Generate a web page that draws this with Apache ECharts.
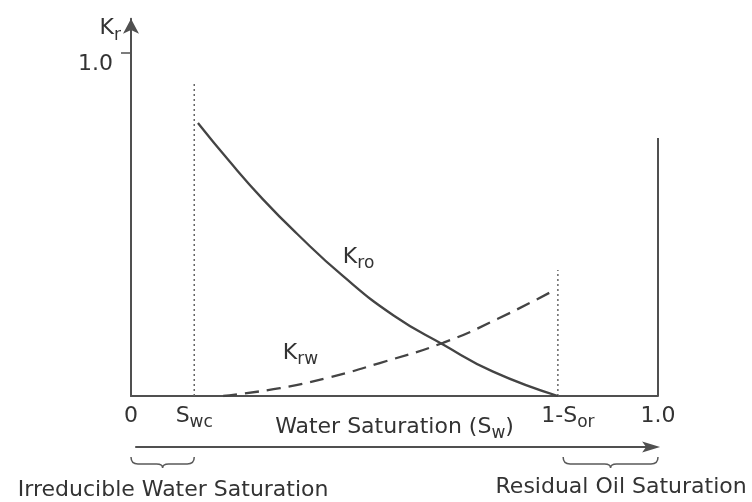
<!DOCTYPE html>
<html>
<head>
<meta charset="utf-8">
<script src="https://cdn.jsdelivr.net/npm/echarts@6/dist/echarts.min.js"></script>
<style>
  html, body { margin: 0; padding: 0; background: #ffffff; }
  #chart { width: 752px; height: 502px; }
</style>
</head>
<body>
<div id="chart"></div>
<script>
// Oil / water relative permeability against water saturation

// Oil relative permeability (solid curve)
const kroSw     = [0.127, 0.188, 0.250, 0.315, 0.402, 0.499, 0.592, 0.687, 0.810];
const kroValues = [0.796, 0.682, 0.574, 0.473, 0.350, 0.234, 0.150, 0.071, 0.000];

// Water relative permeability (dashed curve)
const krwSw     = [0.175, 0.283, 0.378, 0.472, 0.592, 0.696, 0.805];
const krwValues = [0.000, 0.023, 0.055, 0.096, 0.155, 0.225, 0.310];

// End-point saturations and guide heights
const swc = 0.12;          // connate water saturation
const oneMinusSor = 0.81;  // 1 - residual oil saturation
const swcGuideTop = 0.912;
const sorGuideTop = 0.367;
const fullWaterEdgeTop = 0.752;

// Axis ticks
const xTickValues = [0, swc, oneMinusSor, 1.0];
const xTickLabels = ['0', 'Swc', '1-Sor', '1.0'];
const yTickValues = [1.0];
const yTickLabels = ['1.0'];

// Saturation ranges marked by braces under the axis
const irreducibleRange = [0, swc];
const residualOilRange = [0.82, 1.0];
const rangeNames = ['Irreducible Water Saturation', 'Residual Oil Saturation'];

// Where the text annotations sit, in axis units
const labelAnchors = {
  kro: [0.402, 0.401],
  krw: [0.288, 0.121],
  irreducible: [0.08, -0.276],
  residual: [0.93, -0.266],
  arrowY: -0.149,
  arrowStart: 0.008,
  arrowEnd: 1.004,
  braceY: -0.178
};

const FONT = 'DejaVu Sans';
const INK = '#333333';
const LINE = '#444444';
const AXIS = '#505050';

const rich = {
  b:  { fontFamily: FONT, fontSize: 22, color: INK, lineHeight: 24, verticalAlign: 'top' },
  bp: { fontFamily: FONT, fontSize: 22, color: INK, lineHeight: 24, verticalAlign: 'top', padding: [0, 0, 0, 20] },
  s:  { fontFamily: FONT, fontSize: 17, color: INK, lineHeight: 24, verticalAlign: 'top', padding: [9, 0, 0, 0] }
};

function subscripted(text) {
  // "Kro" -> K + subscript "ro"; "Swc" -> S + subscript "wc"
  const m = text.match(/^(.*[KS])([a-z]+)$/);
  if (!m) return '{b|' + text + '}';
  return '{b|' + m[1] + '}{s|' + m[2] + '}';
}

function pair(xs, ys) { return xs.map((x, i) => [x, ys[i]]); }

const chart = echarts.init(document.getElementById('chart'), null, { renderer: 'canvas' });

const option = {
  animation: false,
  backgroundColor: '#ffffff',
  grid: { left: 131, right: 94, top: 18.7, bottom: 106, containLabel: false },
  xAxis: {
    type: 'value',
    min: 0,
    max: 1,
    splitLine: { show: false },
    axisTick: { show: false },
    axisLine: { show: true, lineStyle: { color: AXIS, width: 2 } },
    axisLabel: {
      customValues: xTickValues,
      margin: 9,
      verticalAlign: 'top',
      formatter: function (v) {
        const i = xTickValues.findIndex(t => Math.abs(t - v) < 1e-6);
        if (i < 0) return '';
        const t = xTickLabels[i];
        if (t === '1-Sor') return '{bp|1-S}{s|or}';
        return subscripted(t);
      },
      rich: rich
    },
    name: '{b|Water Saturation (S}{s|w}{b|)}',
    nameLocation: 'middle',
    nameGap: 20,
    nameMoveOverlap: false,
    nameTextStyle: { rich: rich }
  },
  yAxis: {
    type: 'value',
    min: 0,
    max: 1.1,
    splitLine: { show: false },
    axisLine: {
      show: true,
      symbol: ['none', 'arrow'],
      symbolSize: [12, 15],
      lineStyle: { color: AXIS, width: 2 }
    },
    axisTick: { show: true, customValues: yTickValues, length: 10, lineStyle: { color: AXIS, width: 1.5 } },
    axisLabel: {
      customValues: yTickValues,
      margin: 18,
      verticalAlign: 'top',
      formatter: function (v) {
        const i = yTickValues.findIndex(t => Math.abs(t - v) < 1e-6);
        return i < 0 ? '' : '{b|' + yTickLabels[i] + '}';
      },
      rich: rich
    },
    name: '{b|K}{s|r}',
    nameLocation: 'end',
    nameGap: -11,
    nameMoveOverlap: false,
    nameTextStyle: { rich: rich, align: 'right', verticalAlign: 'middle', padding: [0, 10, 0, 0] }
  },
  series: [
    {
      name: 'Kro',
      type: 'line',
      data: pair(kroSw, kroValues),
      smooth: 0.5,
      showSymbol: false,
      lineStyle: { color: LINE, width: 2.3 },
      z: 5
    },
    {
      name: 'Krw',
      type: 'line',
      data: pair(krwSw, krwValues),
      smooth: 0.5,
      showSymbol: false,
      lineStyle: { color: LINE, width: 2.3, type: [14, 8] },
      z: 5
    },
    {
      name: 'Swc guide',
      type: 'line',
      data: [[swc, 0], [swc, swcGuideTop]],
      showSymbol: false,
      lineStyle: { color: '#666666', width: 1.5, type: [2, 3] }
    },
    {
      name: '1-Sor guide',
      type: 'line',
      data: [[oneMinusSor, 0], [oneMinusSor, sorGuideTop]],
      showSymbol: false,
      lineStyle: { color: '#666666', width: 1.5, type: [2, 3] }
    },
    {
      name: 'Sw = 1 edge',
      type: 'line',
      data: [[1, 0], [1, fullWaterEdgeTop]],
      showSymbol: false,
      lineStyle: { color: AXIS, width: 2 }
    },
    {
      name: 'curve labels',
      type: 'scatter',
      symbolSize: 0,
      clip: false,
      itemStyle: { opacity: 1 },
      data: [
        { value: labelAnchors.kro, name: 'Kro' },
        { value: labelAnchors.krw, name: 'Krw' }
      ],
      label: {
        show: true,
        position: 'inside',
        align: 'left',
        verticalAlign: 'middle',
        formatter: p => subscripted(p.name),
        rich: rich
      }
    },
    {
      name: 'saturation arrow',
      type: 'custom',
      clip: false,
      silent: true,
      data: [[labelAnchors.arrowStart, labelAnchors.arrowEnd, labelAnchors.arrowY]],
      renderItem: function (params, api) {
        const a = api.coord([api.value(0), api.value(2)]);
        const b = api.coord([api.value(1), api.value(2)]);
        const y = a[1];
        return {
          type: 'group',
          children: [
            { type: 'line', shape: { x1: a[0], y1: y, x2: b[0] - 12, y2: y },
              style: { stroke: AXIS, lineWidth: 2 } },
            { type: 'polygon',
              shape: { points: [[b[0], y], [b[0] - 18, y - 5.5], [b[0] - 14, y], [b[0] - 18, y + 5.5]] },
              style: { fill: AXIS } }
          ]
        };
      }
    },
    {
      name: 'range braces',
      type: 'custom',
      clip: false,
      silent: true,
      data: [
        [irreducibleRange[0], irreducibleRange[1], labelAnchors.braceY],
        [residualOilRange[0], residualOilRange[1], labelAnchors.braceY]
      ],
      renderItem: function (params, api) {
        const p0 = api.coord([api.value(0), api.value(2)]);
        const p1 = api.coord([api.value(1), api.value(2)]);
        const y = p0[1];
        const x0 = p0[0], x1 = p1[0];
        const m = (x0 + x1) / 2;
        const d = 7, tip = 11;
        const path =
          'M' + x0 + ' ' + y +
          ' Q' + x0 + ' ' + (y + d) + ' ' + (x0 + 7) + ' ' + (y + d) +
          ' L' + (m - 6) + ' ' + (y + d) +
          ' Q' + m + ' ' + (y + d) + ' ' + m + ' ' + (y + tip) +
          ' Q' + m + ' ' + (y + d) + ' ' + (m + 6) + ' ' + (y + d) +
          ' L' + (x1 - 7) + ' ' + (y + d) +
          ' Q' + x1 + ' ' + (y + d) + ' ' + x1 + ' ' + y;
        return {
          type: 'path',
          shape: { pathData: path },
          style: { fill: 'none', stroke: '#5a5a5a', lineWidth: 1.5 }
        };
      }
    },
    {
      name: 'range names',
      type: 'scatter',
      symbolSize: 0,
      clip: false,
      itemStyle: { opacity: 1 },
      data: [
        { value: labelAnchors.irreducible, name: rangeNames[0] },
        { value: labelAnchors.residual, name: rangeNames[1] }
      ],
      label: {
        show: true,
        position: 'inside',
        align: 'center',
        verticalAlign: 'middle',
        formatter: p => p.name,
        fontFamily: FONT,
        fontSize: 22,
        color: INK
      }
    }
  ]
};

chart.setOption(option);
</script>
</body>
</html>
